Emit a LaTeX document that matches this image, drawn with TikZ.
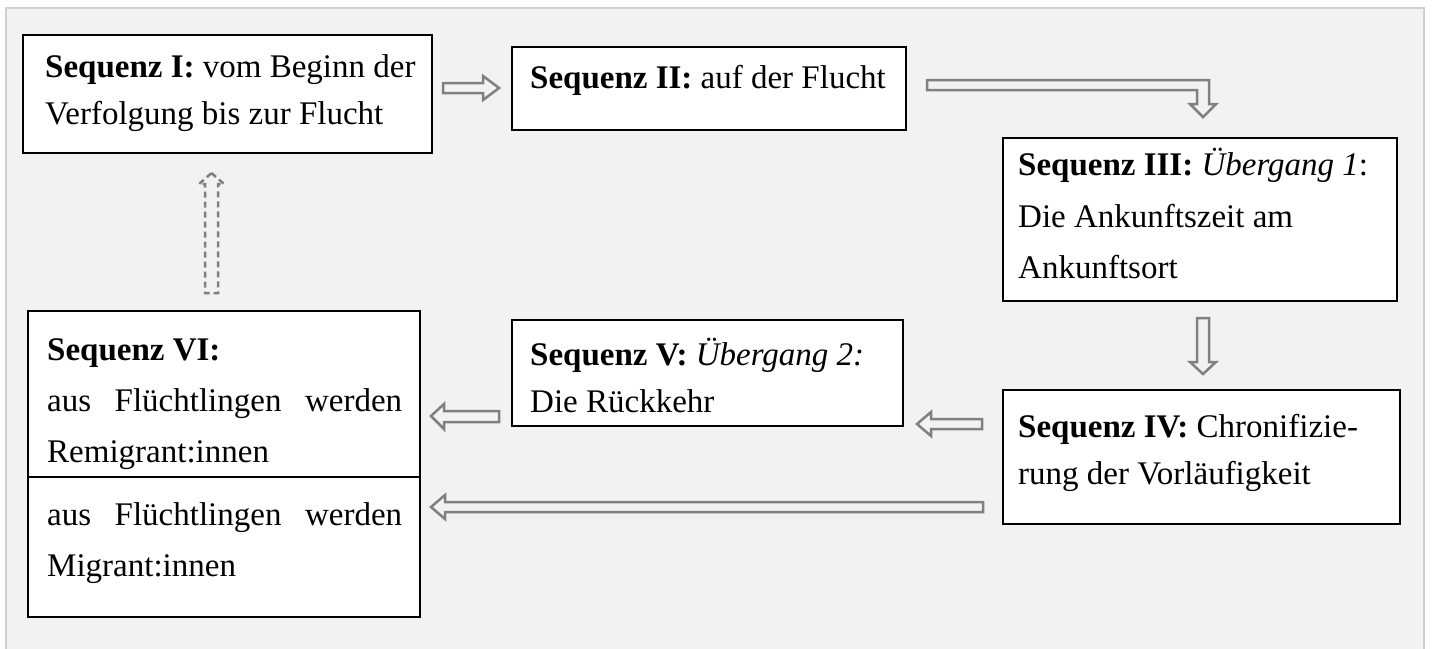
\documentclass[tikz,border=0pt]{standalone}
\usepackage{fontspec}
\setmainfont{Liberation Serif}
\definecolor{bg}{HTML}{F2F2F2}
\definecolor{framec}{HTML}{D0D0D0}
\definecolor{arr}{HTML}{808080}
\begin{document}
\begin{tikzpicture}[x=1pt,y=-1pt,
  box/.style={draw=black, line width=1.2pt, fill=white, inner sep=0pt, outer sep=0pt},
  txt/.style={anchor=base west, inner sep=0pt, font=\fontsize{33}{40}\selectfont},
  blk/.style={draw=arr, line width=2.5pt, fill=bg, line join=miter},
  dblk/.style={blk, dash pattern=on 6pt off 4pt}]
\useasboundingbox (0,0) rectangle (1432,648);
\fill[white] (0,0) rectangle (1432,648);
\draw[draw=framec, fill=bg, line width=2pt] (6,8) rectangle (1424,670);

% boxes
\node[box, minimum width=409pt, minimum height=118pt] (s1) at (227.5,94) {};
\node[box, minimum width=394pt, minimum height=83pt] (s2) at (709,88.5) {};
\node[box, minimum width=394pt, minimum height=163pt] (s3) at (1200,219.5) {};
\node[box, minimum width=397pt, minimum height=134pt] (s4) at (1201.5,457) {};
\node[box, minimum width=391pt, minimum height=106pt] (s5) at (707.5,373) {};
\node[box, minimum width=392pt, minimum height=306pt] (s6) at (224,464) {};
\coordinate (d) at (0,477);
\draw[line width=1.2pt] (s6.west |- d) -- (s6.east |- d);

% texts
\node[txt] (t1a) at (45,77) {\textbf{Sequenz I:} vom Beginn der};
\node[txt] (t1b) at (45,124) {Verfolgung bis zur Flucht};
\node[txt] (t2a) at (530,88) {\textbf{Sequenz II:} auf der Flucht};
\node[txt] (t3a) at (1018,175) {\textbf{Sequenz III:} \textit{Übergang 1}:};
\node[txt] (t3b) at (1018,227) {Die Ankunftszeit am};
\node[txt] (t3c) at (1018,278) {Ankunftsort};
\node[txt] (t4a) at (1018,437) {\textbf{Sequenz IV:} Chronifizie-};
\node[txt] (t4b) at (1018,484) {rung der Vorläufigkeit};
\node[txt] (t5a) at (530,365) {\textbf{Sequenz V:} \textit{Übergang 2:}};
\node[txt] (t5b) at (530,412) {Die Rückkehr};
\node[txt] (t6a) at (47,360) {\textbf{Sequenz VI:}};
\node[txt] (t6b) at (47,411) {\makebox[355pt][s]{aus\hfill Flüchtlingen\hfill werden}};
\node[txt] (t6c) at (47,462) {Remigrant:innen};
\node[txt] (t6d) at (47,525) {\makebox[355pt][s]{aus\hfill Flüchtlingen\hfill werden}};
\node[txt] (t6e) at (47,576) {Migrant:innen};

% block arrows
\draw[blk] (443,83) -- (483,83) -- (483,76) -- (499,88) -- (483,100) -- (483,93) -- (443,93) -- cycle;
\draw[blk] (927,80) -- (1209,80) -- (1209,104) -- (1216,104) -- (1203,117) -- (1190,104) -- (1197,104) -- (1197,90) -- (927,90) -- cycle;
\draw[blk] (1197,318) -- (1209,318) -- (1209,362) -- (1216,362) -- (1203,374) -- (1190,362) -- (1197,362) -- cycle;
\draw[blk] (917,424) -- (931,412) -- (931,419) -- (982,419) -- (982,429) -- (931,429) -- (931,436) -- cycle;
\draw[blk] (431,416) -- (444,404) -- (444,411) -- (499,411) -- (499,422) -- (444,422) -- (444,429) -- cycle;
\draw[blk] (431,507) -- (445,495) -- (445,502) -- (983,502) -- (983,512) -- (445,512) -- (445,519) -- cycle;
\draw[dblk] (211.5,173) -- (224,184) -- (218,184) -- (218,293) -- (205,293) -- (205,184) -- (199,184) -- cycle;
\end{tikzpicture}
\end{document}
